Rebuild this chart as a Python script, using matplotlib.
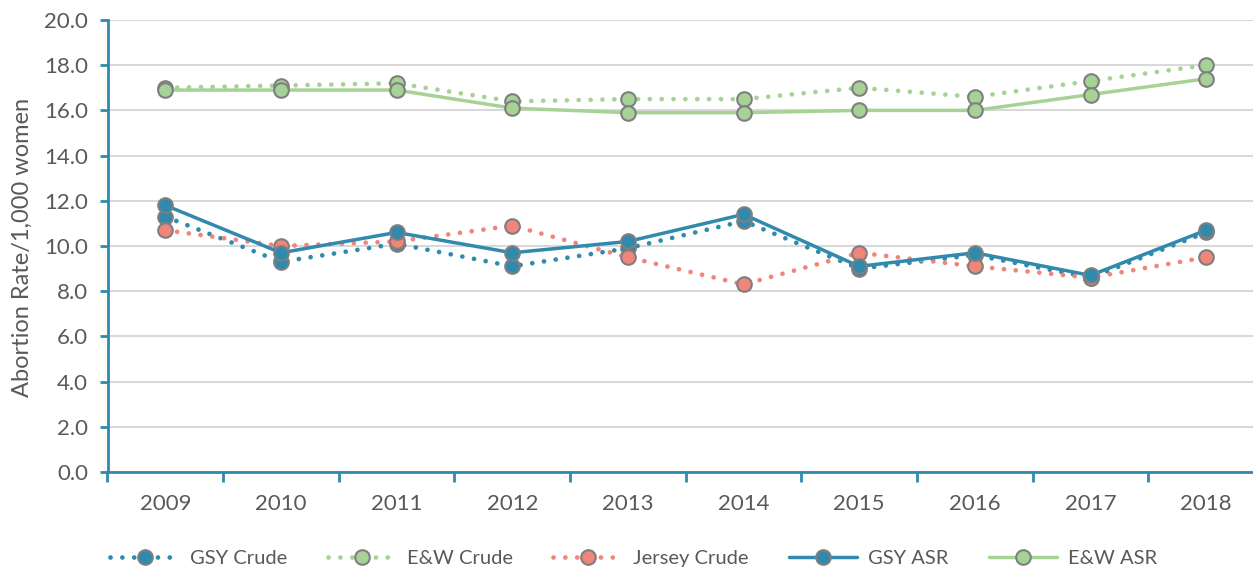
import matplotlib
matplotlib.use("Agg")
import matplotlib.pyplot as plt
import numpy as np

years = ["2009", "2010", "2011", "2012", "2013", "2014", "2015", "2016", "2017", "2018"]
gsy_crude = [11.3, 9.3, 10.1, 9.1, 9.9, 11.1, 9.0, 9.6, 8.6, 10.6]
ew_crude = [17.0, 17.1, 17.2, 16.4, 16.5, 16.5, 17.0, 16.6, 17.3, 18.0]
jersey_crude = [10.7, 10.0, 10.2, 10.9, 9.5, 8.3, 9.7, 9.1, 8.6, 9.5]
gsy_asr = [11.8, 9.7, 10.6, 9.7, 10.2, 11.4, 9.1, 9.7, 8.7, 10.7]
ew_asr = [16.9, 16.9, 16.9, 16.1, 15.9, 15.9, 16.0, 16.0, 16.7, 17.4]
yticks = [0, 2, 4, 6, 8, 10, 12, 14, 16, 18, 20]

BLUE = "#2F8AAD"
GREEN = "#A6D395"
SALMON = "#F0857A"
EDGE = "#7F7F7F"
TXT = "#595959"

plt.rcParams['font.family'] = ['Lato', 'DejaVu Sans']

W, H = 1253, 572
fig = plt.figure(figsize=(W / 100, H / 100), dpi=100)
left, right, top, bottom = 107.5, 1264, 20, 472
ax = fig.add_axes([left / W, 1 - bottom / H, (right - left) / W, (bottom - top) / H])

x = np.arange(len(years))
dot = (0, (0.01, 2.5))
series = [
    ("GSY Crude", gsy_crude, BLUE, dot, 3.4),
    ("E&W Crude", ew_crude, GREEN, dot, 3.4),
    ("Jersey Crude", jersey_crude, SALMON, dot, 3.4),
    ("GSY ASR", gsy_asr, BLUE, "-", 2.5),
    ("E&W ASR", ew_asr, GREEN, "-", 2.5),
]
handles = []
for i, (name, vals, col, ls, lw) in enumerate(series):
    ln, = ax.plot(x, vals, color=col, linestyle=ls, linewidth=lw,
                  dash_capstyle='round', solid_capstyle='round',
                  marker='o', markersize=10.5, markerfacecolor=col,
                  markeredgecolor=EDGE, markeredgewidth=1.5,
                  zorder=3 + i, label=name, clip_on=False)
    handles.append(ln)

ax.set_xlim(-0.5, len(years) - 0.5)
ax.set_ylim(0, 20)
ax.set_yticks(yticks)
ax.set_yticklabels([f"{v:.1f}" for v in yticks])
ax.set_xticks(x)
ax.set_xticklabels(years)
ax.set_xticks(np.arange(-0.5, len(years), 1.0), minor=True)
ax.tick_params(axis='x', which='major', length=0, pad=16, labelsize=16, labelcolor=TXT)
ax.tick_params(axis='x', which='minor', length=7, width=2, color=BLUE, direction='out')
ax.tick_params(axis='y', which='major', length=6, width=2, color=BLUE, direction='out',
               pad=8, labelsize=16, labelcolor=TXT)

ax.grid(axis='y', color="#D9D9D9", linewidth=1.5, zorder=0)
ax.set_axisbelow(True)
for s in ['top', 'right']:
    ax.spines[s].set_visible(False)
for s in ['left', 'bottom']:
    ax.spines[s].set_color(BLUE)
    ax.spines[s].set_linewidth(2)

fig.text(22 / W, 1 - 247 / H, "Abortion Rate/1,000 women", rotation=90,
         ha='center', va='center', fontsize=17, color=TXT)

leg = fig.legend(handles=handles, loc='center', bbox_to_anchor=(634 / W, 1 - 558 / H),
                 ncol=5, frameon=False, fontsize=14.5, labelcolor=TXT,
                 handlelength=3.4, handletextpad=0.55, columnspacing=2.0,
                 borderaxespad=0)

fig.savefig("out.png", dpi=100)
